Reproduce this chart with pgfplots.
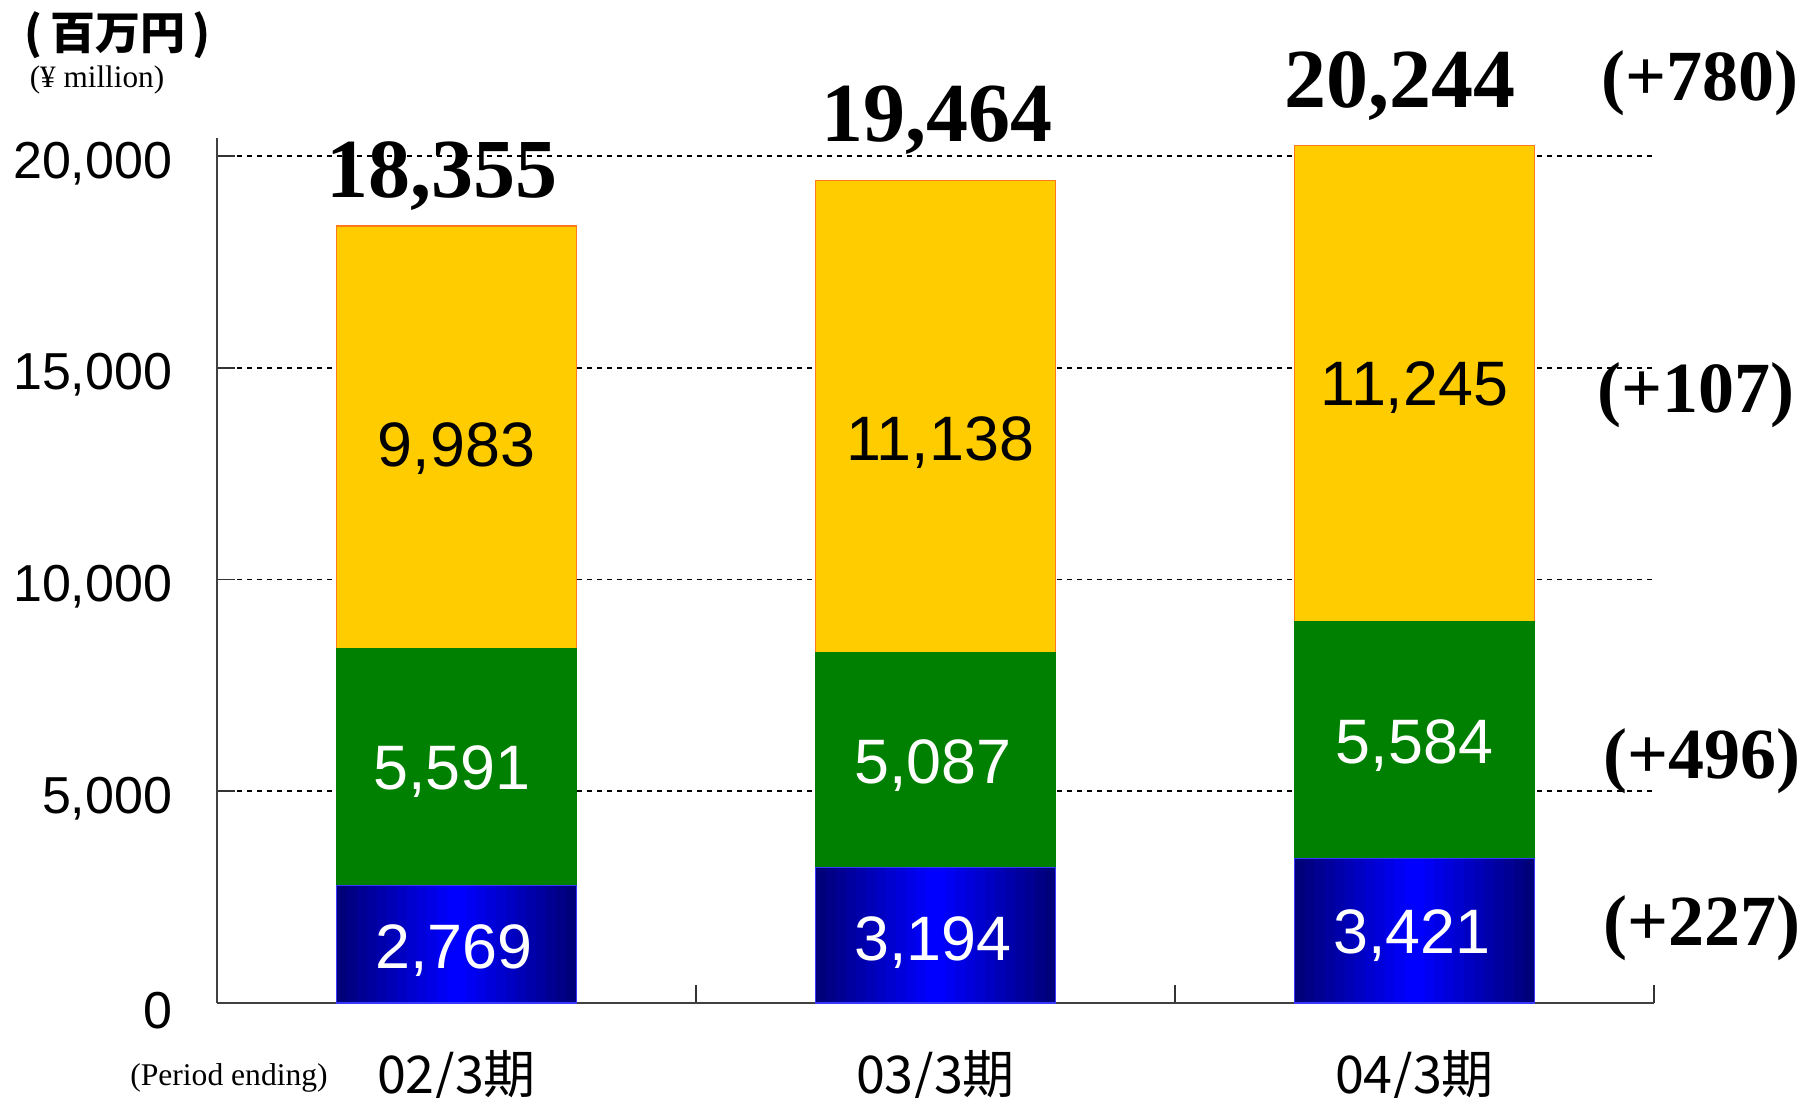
\documentclass[border=0pt]{standalone}
\usepackage{pgfplots}
\pgfplotsset{compat=1.18}
\usepackage{fontspec}
\setmainfont{Liberation Sans}
\newfontfamily\tnr{Liberation Serif}
\newfontfamily\cjk{Noto Sans CJK JP}
\definecolor{cyellow}{HTML}{FFCC00}
\definecolor{corange}{HTML}{FF7A1A}
\definecolor{cgreen}{HTML}{008000}
\definecolor{cnavy}{HTML}{00007A}
\definecolor{cblue}{HTML}{0000FF}
\definecolor{cblueedge}{HTML}{3838FF}
\pgfplotstableread{
x v
0 2769
1 3194
2 3421
}\tblblue
\pgfplotstableread{
x v
0 5591
1 5087
2 5584
}\tblgreen
\pgfplotstableread{
x v
0 9983
1 11138
2 11245
}\tblyellow
\tikzset{
 inl/.style={font=\fontsize{15.7}{16}\selectfont},
 inw/.style={font=\fontsize{15.7}{16}\selectfont, text=white},
 tot/.style={font=\tnr\bfseries\fontsize{21}{22}\selectfont},
 dif/.style={font=\tnr\bfseries\fontsize{18}{19}\selectfont},
}
\pgfplotsset{common/.style={scale only axis, width=359.25pt, height=216.25pt,
 xmin=-0.5, xmax=2.5, ymin=0, ymax=20425}}
\begin{document}
\begin{tikzpicture}
\begin{axis}[common, hide axis]
\addplot[ybar, bar shift=0pt, bar width=0.5, fill=cnavy, draw=none] table[x=x,y=v] {\tblblue};
\addplot[ybar, bar shift=0pt, bar width=0.4583, fill=cblue!9!cnavy, draw=none] table[x=x,y=v] {\tblblue};
\addplot[ybar, bar shift=0pt, bar width=0.4167, fill=cblue!18!cnavy, draw=none] table[x=x,y=v] {\tblblue};
\addplot[ybar, bar shift=0pt, bar width=0.375, fill=cblue!27!cnavy, draw=none] table[x=x,y=v] {\tblblue};
\addplot[ybar, bar shift=0pt, bar width=0.3333, fill=cblue!36!cnavy, draw=none] table[x=x,y=v] {\tblblue};
\addplot[ybar, bar shift=0pt, bar width=0.2917, fill=cblue!45!cnavy, draw=none] table[x=x,y=v] {\tblblue};
\addplot[ybar, bar shift=0pt, bar width=0.25, fill=cblue!55!cnavy, draw=none] table[x=x,y=v] {\tblblue};
\addplot[ybar, bar shift=0pt, bar width=0.2083, fill=cblue!64!cnavy, draw=none] table[x=x,y=v] {\tblblue};
\addplot[ybar, bar shift=0pt, bar width=0.1667, fill=cblue!73!cnavy, draw=none] table[x=x,y=v] {\tblblue};
\addplot[ybar, bar shift=0pt, bar width=0.125, fill=cblue!82!cnavy, draw=none] table[x=x,y=v] {\tblblue};
\addplot[ybar, bar shift=0pt, bar width=0.0833, fill=cblue!91!cnavy, draw=none] table[x=x,y=v] {\tblblue};
\addplot[ybar, bar shift=0pt, bar width=0.0417, fill=cblue, draw=none] table[x=x,y=v] {\tblblue};
\end{axis}
\begin{axis}[
 common,
 ybar stacked, bar width=0.5, clip=false,
 axis x line*=bottom, axis y line*=left,
 axis line style={black!75, line width=0.5pt},
 tick style={black!80, line width=0.4pt},
 xtick={0.5,1.5,2.5}, xticklabels={},
 extra x ticks={0,1,2},
 extra x tick labels={02/3期,03/3期,04/3期},
 extra x tick style={major tick length=0pt, grid=none,
   xticklabel style={anchor=center, yshift=-18.5pt, font=\cjk\fontsize{13}{14}\selectfont}},
 ytick={0,5000,10000,15000,20000},
 scaled y ticks=false,
 ymajorgrids, major grid style={black, line width=0.4pt, dash pattern=on 1.25pt off 1.25pt},
 major tick length=4.5pt, tick align=inside,
 /pgf/number format/1000 sep={,},
 /pgf/number format/assume math mode=true,
 yticklabel style={font=\fontsize{13}{13}\selectfont, anchor=east, inner sep=0pt, xshift=-11pt, yshift=-1.8pt},
]
\addplot[draw=cblueedge, line width=0.3pt, fill=none] table[x=x,y=v] {\tblblue};
\addplot[fill=cgreen, draw=cgreen, line width=0.3pt] table[x=x,y=v] {\tblgreen};
\addplot[fill=cyellow, draw=corange, line width=0.35pt] table[x=x,y=v] {\tblyellow};
\end{axis}
\begin{axis}[common, hide axis, clip=false]
\node[inl] at (axis cs:0.0,13081) {9,983};
\node[inl] at (axis cs:1.01,13235) {11,138};
\node[inl] at (axis cs:2.0,14522) {11,245};
\node[inw] at (axis cs:-0.01,5454) {5,591};
\node[inw] at (axis cs:0.995,5596) {5,087};
\node[inw] at (axis cs:2.0,6078) {5,584};
\node[inw] at (axis cs:-0.005,1235) {2,769};
\node[inw] at (axis cs:0.995,1426) {3,194};
\node[inw] at (axis cs:1.995,1589) {3,421};
\node[tot] at (axis cs:-0.03,19528) {18,355};
\node[tot] at (axis cs:1.003,20850) {19,464};
\node[tot] at (axis cs:1.97,21653) {20,244};
\node[dif] at (axis cs:2.596,21724) {(+780)};
\node[dif] at (axis cs:2.588,14357) {(+107)};
\node[dif] at (axis cs:2.60,5714) {(+496)};
\node[dif] at (axis cs:2.60,1771) {(+227)};
\end{axis}
\node[font=\cjk\bfseries\fontsize{11.25}{12}\selectfont] at ([shift={(-24.75pt,242pt)}]current axis.south west) {(\,百万円\,)};
\node[font=\tnr\fontsize{7.8}{8}\selectfont] at ([shift={(-30pt,230.75pt)}]current axis.south west) {(¥ million)};
\node[font=\tnr\fontsize{7.9}{8}\selectfont] at ([shift={(3pt,-18.75pt)}]current axis.south west) {(Period ending)};
\pgfresetboundingbox
\path[use as bounding box] ([shift={(-54.25pt,-23.75pt)}]current axis.south west) rectangle ++(451.75pt,274.5pt);
\end{tikzpicture}
\end{document}
